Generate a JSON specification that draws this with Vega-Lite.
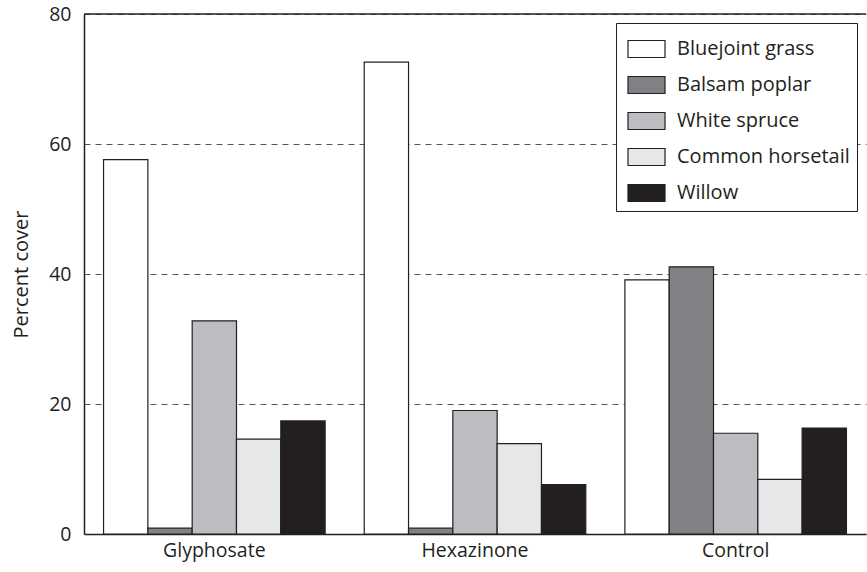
{
  "$schema": "https://vega.github.io/schema/vega-lite/v6.json",
  "width": 782,
  "height": 520,
  "autosize": "none",
  "padding": {"left": 84, "top": 14, "right": 1, "bottom": 38},
  "background": "white",
  "config": {
    "font": "Open Sans",
    "view": {"stroke": null},
    "axis": {"labelColor": "#231f20", "titleColor": "#231f20", "domainColor": "#231f20", "labelFont": "Open Sans", "titleFont": "Open Sans"}
  },
  "data": {
    "values": [
      {"treatment": "Glyphosate", "species": "Bluejoint grass", "cover": 57.6},
      {"treatment": "Glyphosate", "species": "Balsam poplar", "cover": 0.9},
      {"treatment": "Glyphosate", "species": "White spruce", "cover": 32.8},
      {"treatment": "Glyphosate", "species": "Common horsetail", "cover": 14.6},
      {"treatment": "Glyphosate", "species": "Willow", "cover": 17.4},
      {"treatment": "Hexazinone", "species": "Bluejoint grass", "cover": 72.6},
      {"treatment": "Hexazinone", "species": "Balsam poplar", "cover": 0.9},
      {"treatment": "Hexazinone", "species": "White spruce", "cover": 19.0},
      {"treatment": "Hexazinone", "species": "Common horsetail", "cover": 13.9},
      {"treatment": "Hexazinone", "species": "Willow", "cover": 7.6},
      {"treatment": "Control", "species": "Bluejoint grass", "cover": 39.1},
      {"treatment": "Control", "species": "Balsam poplar", "cover": 41.1},
      {"treatment": "Control", "species": "White spruce", "cover": 15.5},
      {"treatment": "Control", "species": "Common horsetail", "cover": 8.4},
      {"treatment": "Control", "species": "Willow", "cover": 16.3}
    ]
  },
  "layer": [
    {
      "mark": {"type": "bar", "stroke": "#231f20", "strokeWidth": 1.2},
      "encoding": {
        "x": {
          "field": "treatment", "type": "nominal",
          "sort": ["Glyphosate", "Hexazinone", "Control"],
          "scale": {"paddingInner": 0.15, "paddingOuter": 0.075},
          "axis": {"title": null, "labelAngle": 0, "ticks": false, "labelFontSize": 19.5, "labelPadding": 7, "domainWidth": 1.5}
        },
        "xOffset": {
          "field": "species", "type": "nominal",
          "sort": ["Bluejoint grass", "Balsam poplar", "White spruce", "Common horsetail", "Willow"],
          "scale": {"paddingInner": 0, "paddingOuter": 0}
        },
        "y": {
          "field": "cover", "type": "quantitative",
          "scale": {"domain": [0, 80]},
          "axis": {"title": "Percent cover", "titleFontSize": 20, "titleFontWeight": "normal", "titlePadding": 17, "values": [0, 20, 40, 60, 80], "ticks": false, "labelFontSize": 19.5, "labelPadding": 13, "grid": true, "gridDash": [6, 5], "gridColor": "#555555", "gridWidth": 1, "domainWidth": 1.5}
        },
        "fill": {
          "field": "species", "type": "nominal",
          "sort": ["Bluejoint grass", "Balsam poplar", "White spruce", "Common horsetail", "Willow"],
          "scale": {"domain": ["Bluejoint grass", "Balsam poplar", "White spruce", "Common horsetail", "Willow"], "range": ["#ffffff", "#808184", "#bcbdc0", "#e6e7e8", "#231f20"]},
          "legend": {
            "title": null, "orient": "none", "legendX": 532, "legendY": 9,
            "fillColor": "white", "strokeColor": "#231f20", "padding": 7,
            "symbolType": "M-0.778,-0.472H1.278V0.472H-0.778Z", "symbolSize": 1296,
            "symbolStrokeColor": "#231f20", "symbolStrokeWidth": 1.2,
            "labelFontSize": 20, "labelColor": "#231f20", "labelOffset": 16, "rowPadding": 6, "labelLimit": 300
          }
        }
      }
    },
    {
      "data": {"values": [{"top": 80}]},
      "mark": {"type": "rule", "stroke": "#231f20", "strokeWidth": 1.5},
      "encoding": {"y": {"field": "top", "type": "quantitative"}}
    }
  ]
}
